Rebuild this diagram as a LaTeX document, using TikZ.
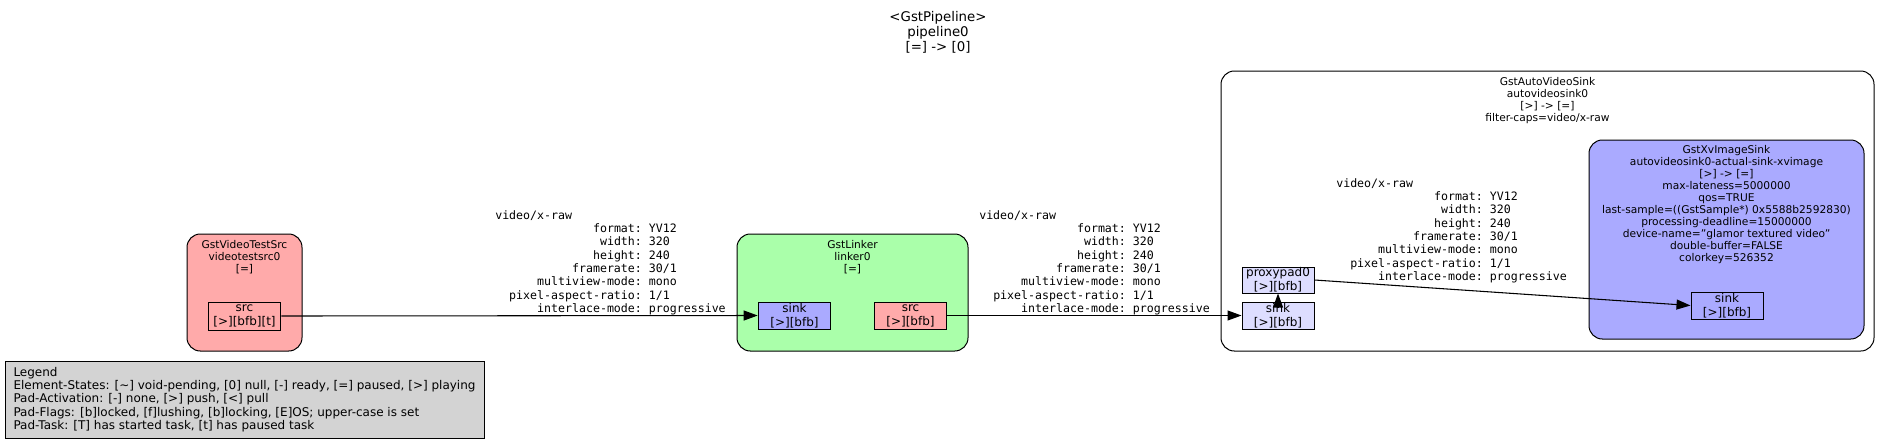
\documentclass[tikz,border=0pt]{standalone}
\usepackage{fontspec}
\setmainfont{DejaVu Sans}
\newfontfamily\capsmono{DejaVu Sans Mono}
\usetikzlibrary{arrows.meta,calc}
\definecolor{srcred}{HTML}{FFAAAA}
\definecolor{sinkblue}{HTML}{AAAAFF}
\definecolor{filtgreen}{HTML}{AAFFAA}
\definecolor{proxyblue}{HTML}{DDDDFF}
\definecolor{legendgrey}{HTML}{D3D3D3}
\newlength\cw
\setlength{\cw}{5.238pt}
\newcommand{\capkv}[2]{\makebox[21\cw][r]{#1}\makebox[\cw]{}#2}
\newcommand{\capslines}{video/x-raw\\
\capkv{format:}{YV12}\\
\capkv{width:}{320}\\
\capkv{height:}{240}\\
\capkv{framerate:}{30/1}\\
\capkv{multiview-mode:}{mono}\\
\capkv{pixel-aspect-ratio:}{1/1}\\
\capkv{interlace-mode:}{progressive}}
\tikzset{
  cluster/.style={draw=black, line width=0.75pt, rounded corners=10pt, inner sep=0pt},
  padbox/.style={draw=black, line width=0.75pt, inner sep=0pt, align=center,
    font=\fontsize{9}{10.5}\selectfont, minimum width=54.5pt, minimum height=20.25pt},
  ctitle/.style={anchor=north, inner sep=0pt, align=center, font=\fontsize{8}{9}\selectfont},
  capslabel/.style={anchor=north west, inner sep=0pt, align=left,
    font=\capsmono\fontsize{8.7}{10}\selectfont},
  edge/.style={draw=black, line width=0.8pt, -{Triangle[length=10.5pt,width=7.5pt]}},
}
\begin{document}
\begin{tikzpicture}[x=0.75pt,y=-0.75pt]
\fill[white] (0,0) rectangle (1880,444);
\useasboundingbox (0,0) rectangle (1880,444);

% graph title
\node[anchor=north, inner sep=0pt, align=center, font=\fontsize{10}{11.25}\selectfont]
  (ptitle) at (938,11.5) {<GstPipeline>\\pipeline0\\{[=] -> [0]}};

% clusters
\node[cluster, fill=srcred, minimum width=86.25pt, minimum height=87.75pt] (vts) at (244.5,292.5) {};
\node[ctitle] (vtstitle) at (244.5,240.5) {GstVideoTestSrc\\videotestsrc0\\{[=]}};

\node[cluster, fill=filtgreen, minimum width=173.25pt, minimum height=87.75pt] (lnk) at (852.5,292.5) {};
\node[ctitle] (lnktitle) at (852.5,240.5) {GstLinker\\linker0\\{[=]}};

\node[cluster, fill=white, minimum width=489.75pt, minimum height=210pt] (avs) at (1547.5,211) {};
\node[ctitle] (avstitle) at (1547.5,77.5) {GstAutoVideoSink\\autovideosink0\\{[>] -> [=]}\\filter-caps=video/x-raw};

\node[cluster, fill=sinkblue, minimum width=206.25pt, minimum height=149.25pt] (xvs) at (1726.5,239.5) {};
\node[ctitle] (xvstitle) at (1726.5,145.5) {GstXvImageSink\\autovideosink0-actual-sink-xvimage\\{[>] -> [=]}\\max-lateness=5000000\\qos=TRUE\\last-sample=((GstSample*) 0x5588b2592830)\\processing-deadline=15000000\\device-name="glamor textured video"\\double-buffer=FALSE\\colorkey=526352};

% legend
\node[draw=black, line width=0.75pt, fill=legendgrey, inner sep=0pt, align=left,
  font=\fontsize{9}{10}\selectfont, minimum width=359.25pt, minimum height=57.75pt]
  (legend) at (244.5,399.5) {Legend\\Element-States: [\textasciitilde] void-pending, [0] null, [-] ready, [=] paused, [>] playing\\Pad-Activation: [-] none, [>] push, [<] pull\\Pad-Flags: [b]locked, [f]lushing, [b]locking, [E]OS; upper-case is set\\Pad-Task: [T] has started task, [t] has paused task};

% pads
\node[padbox, fill=srcred, minimum height=21pt] (vtssrc) at (244.5,316) {src\\{[>][bfb][t]}};
\node[padbox, fill=sinkblue] (lsink) at (794.5,315.5) {sink\\{[>][bfb]}};
\node[padbox, fill=srcred] (lsrc) at (910.5,315.5) {src\\{[>][bfb]}};
\node[padbox, fill=proxyblue, minimum width=54pt] (gsink) at (1278,315.5) {sink\\{[>][bfb]}};
\node[padbox, fill=proxyblue, minimum width=54pt, minimum height=19.5pt] (proxy) at (1278,280) {proxypad0\\{[>][bfb]}};
\node[padbox, fill=sinkblue, minimum width=54pt] (xvsink) at (1727,305.5) {sink\\{[>][bfb]}};

% edges
\draw[edge] (vtssrc.east) -- (lsink.west);
\draw[edge] (lsrc.east) -- (gsink.west);
\draw[edge] ([yshift=-5pt]gsink.north) -- (proxy.south);
\draw[edge] (proxy.east) -- (xvsink.west);

% caps labels
\node[capslabel] (caps1) at (495,210) {\capslines};
\node[capslabel] (caps2) at (979,210) {\capslines};
\node[capslabel] (caps3) at (1336,178) {\capslines};
\end{tikzpicture}
\end{document}
